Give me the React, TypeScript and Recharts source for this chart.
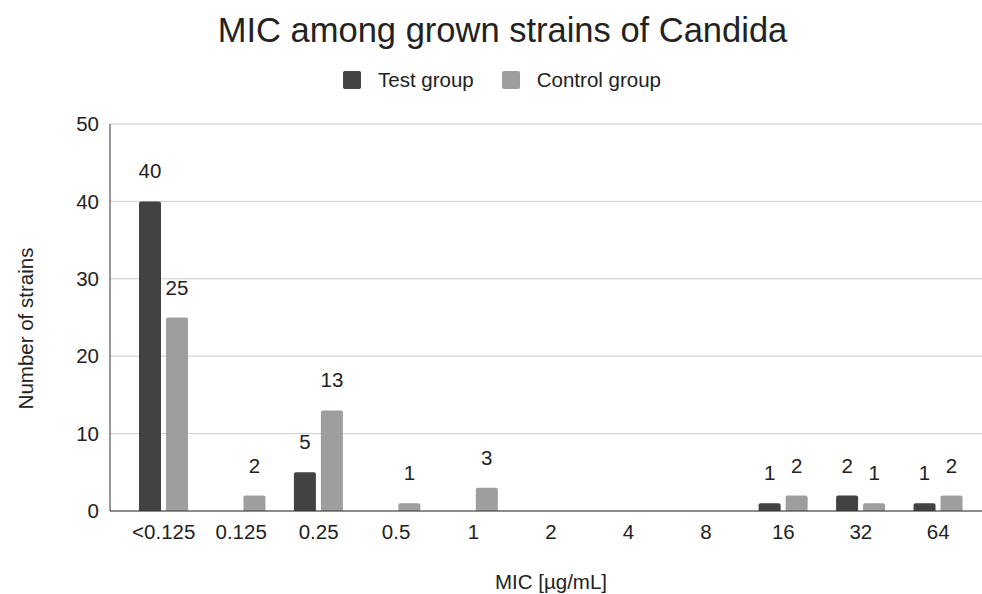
import React from 'react';
import { BarChart, Bar, XAxis, YAxis, CartesianGrid, Legend, LabelList } from 'recharts';

const categories = ['<0.125', '0.125', '0.25', '0.5', '1', '2', '4', '8', '16', '32', '64'];
const testGroup = [40, 0, 5, 0, 0, 0, 0, 0, 1, 2, 1];
const controlGroup = [25, 2, 13, 1, 3, 0, 0, 0, 2, 1, 2];
const yTicks = [0, 10, 20, 30, 40, 50];

const FONT = 'Arial, "Liberation Sans", sans-serif';
const FS = 20.5;
const TEST_COLOR = '#424242';
const CONTROL_COLOR = '#9e9e9e';
const TEXT_COLOR = '#222222';

const data = categories.map((mic, i) => ({
  mic,
  test: testGroup[i],
  control: controlGroup[i],
}));

// hide labels for empty bars
const hideZero = (v: any) => (v === 0 ? '' : v);

const renderLegend = () => (
  <div style={{ display: 'flex', justifyContent: 'center', alignItems: 'center', fontFamily: FONT, fontSize: FS, color: TEXT_COLOR }}>
    <span style={{ width: 18, height: 18, background: TEST_COLOR, borderRadius: 2, marginRight: 17 }} />
    <span style={{ marginRight: 28 }}>Test group</span>
    <span style={{ width: 18, height: 18, background: CONTROL_COLOR, borderRadius: 2, marginRight: 17 }} />
    <span>Control group</span>
  </div>
);

const renderYLabel = (props: any) => {
  const vb = props.viewBox || {};
  const cy = (vb.y ?? 124) + (vb.height ?? 387) / 2 + 11;
  return (
    <text
      transform={`translate(33, ${cy}) rotate(-90)`}
      textAnchor="middle"
      fontFamily={FONT}
      fontSize={FS}
      fill={TEXT_COLOR}
    >
      Number of strains
    </text>
  );
};

export default function App() {
  return (
    <div style={{ position: 'absolute', left: 0, top: 0, width: 982, height: 594, background: '#fff', fontFamily: FONT }}>
      <div style={{ position: 'absolute', top: 11, left: 0, width: 1005, textAlign: 'center', fontSize: 34.5, color: TEXT_COLOR }}>
        MIC among grown strains of Candida
      </div>
      <BarChart
        width={982}
        height={594}
        data={data}
        margin={{ top: 124, right: 0, bottom: 0, left: 0 }}
        barSize={22}
        barGap={5}
      >
        <CartesianGrid vertical={false} stroke="#cccccc" />
        <XAxis
          dataKey="mic"
          height={83}
          padding={{ left: 15, right: 5 }}
          tickLine={false}
          tickMargin={7}
          axisLine={{ stroke: '#333333' }}
          tick={{ fill: TEXT_COLOR, fontSize: FS, fontFamily: FONT }}
          interval={0}
          label={{ value: 'MIC [µg/mL]', position: 'insideBottom', offset: 5, dx: 5, fill: TEXT_COLOR, fontSize: FS, fontFamily: FONT }}
        />
        <YAxis
          width={110}
          domain={[0, 50]}
          ticks={yTicks}
          tickLine={false}
          tickMargin={5}
          axisLine={{ stroke: '#333333' }}
          tick={{ fill: TEXT_COLOR, fontSize: FS, fontFamily: FONT }}
          label={{ content: renderYLabel }}
        />
        <Legend
          layout="horizontal"
          verticalAlign="middle"
          align="center"
          content={renderLegend}
          wrapperStyle={{ top: 68, left: 11, width: 982, height: 24 }}
        />
        <Bar dataKey="test" name="Test group" fill={TEST_COLOR} radius={[2, 2, 0, 0]} isAnimationActive={false}>
          <LabelList dataKey="test" position="top" offset={23} formatter={hideZero} fill={TEXT_COLOR} fontSize={FS} fontFamily={FONT} />
        </Bar>
        <Bar dataKey="control" name="Control group" fill={CONTROL_COLOR} radius={[2, 2, 0, 0]} isAnimationActive={false}>
          <LabelList dataKey="control" position="top" offset={23} formatter={hideZero} fill={TEXT_COLOR} fontSize={FS} fontFamily={FONT} />
        </Bar>
      </BarChart>
    </div>
  );
}
